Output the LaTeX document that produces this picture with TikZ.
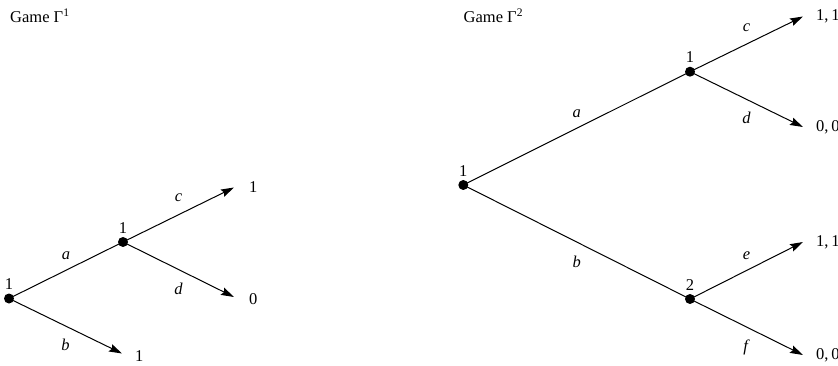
\documentclass[tikz,border=0pt]{standalone}
\usepackage{fontspec}
\setmainfont{Liberation Serif}
\usetikzlibrary{arrows.meta}
\begin{document}
\begin{tikzpicture}[x=1pt,y=-1pt,
  every node/.style={font=\fontsize{16.5}{19}\selectfont},
  dot/.style={circle,fill=black,inner sep=0pt,minimum size=10pt},
  edge/.style={line width=1pt},
  arr/.style={line width=1pt,-{Stealth[length=13pt,width=8pt,inset=2pt]}},
  pay/.style={anchor=west,inner sep=0pt},
  lab/.style={inner sep=0pt},
  title/.style={anchor=base west,inner sep=0pt}]
\useasboundingbox (0,0) rectangle (838,366);
% Game 1
\node[title] (g1) at (10,23) {Game Γ\textsuperscript{1}};
\node[dot,label={[label distance=0pt]above:1}] (r1) at (9,298.5) {};
\node[dot,label={[label distance=0pt]above:1}] (m1) at (123,242) {};
\coordinate (tc1) at (234,187.5);
\coordinate (td1) at (234,297);
\coordinate (tb1) at (122,353.5);
\node[pay] (pc1) at (249,187) {1};
\node[pay] (pd1) at (249,299) {0};
\node[pay] (pb1) at (135,356) {1};
\draw[edge] (r1.center) -- node[lab,midway,yshift=15]{\textit{a}} (m1.center);
\draw[arr] (m1.center) -- node[lab,midway,yshift=17]{\textit{c}} (tc1);
\draw[arr] (m1.center) -- node[lab,midway,yshift=-19]{\textit{d}} (td1);
\draw[arr] (r1.center) -- node[lab,midway,yshift=-19]{\textit{b}} (tb1);
% Game 2
\node[title] (g2) at (463.5,22.7) {Game Γ\textsuperscript{2}};
\node[dot,label={[label distance=0pt]above:1}] (r2) at (463.3,185) {};
\node[dot,label={[label distance=0pt]above:1}] (u2) at (690,71.7) {};
\node[dot,label={[label distance=0pt]above:2}] (l2) at (690,299) {};
\coordinate (tc2) at (803,16.5);
\coordinate (td2) at (803,127);
\coordinate (te2) at (803,242);
\coordinate (tf2) at (803,355);
\node[pay] (pc2) at (816,16.5) {1,\,1};
\node[pay] (pd2) at (816,127.5) {0,\,0};
\node[pay] (pe2) at (816,242.5) {1,\,1};
\node[pay] (pf2) at (816,355.5) {0,\,0};
\draw[edge] (r2.center) -- node[lab,midway,yshift=15]{\textit{a}} (u2.center);
\draw[edge] (r2.center) -- node[lab,midway,yshift=-20]{\textit{b}} (l2.center);
\draw[arr] (u2.center) -- node[lab,midway,yshift=16]{\textit{c}} (tc2);
\draw[arr] (u2.center) -- node[lab,midway,yshift=-19]{\textit{d}} (td2);
\draw[arr] (l2.center) -- node[lab,midway,yshift=15]{\textit{e}} (te2);
\draw[arr] (l2.center) -- node[lab,midway,yshift=-20]{\textit{f}} (tf2);
\end{tikzpicture}
\end{document}
